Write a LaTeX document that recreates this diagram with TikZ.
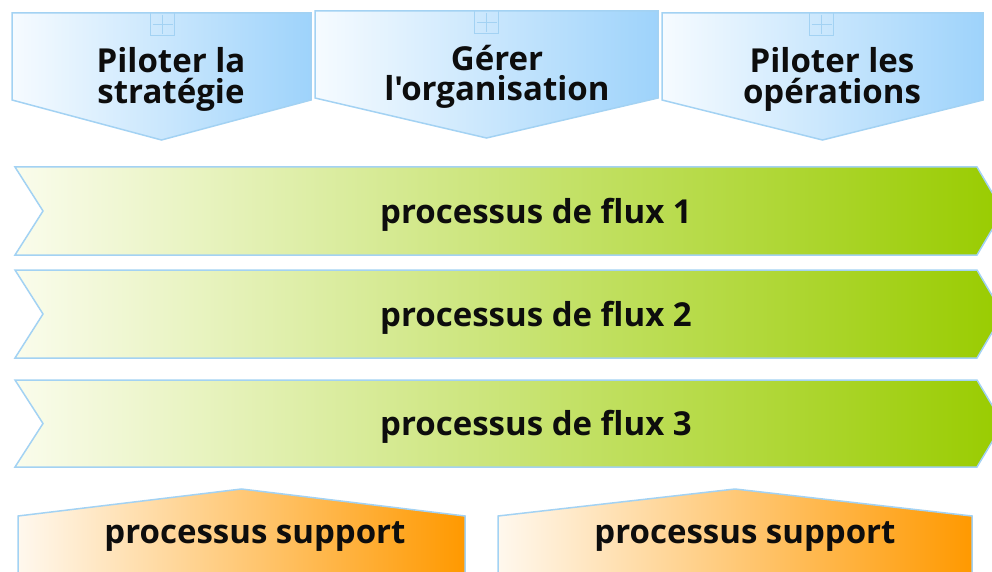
\documentclass[tikz,border=0pt]{standalone}
\usepackage{fontspec}
\setmainfont{Open Sans}[Ligatures=TeXOff]
\usepackage{xcolor}
% shape outlines: x1, x2 (and top for the pilot boxes)
\def\pilotshape#1#2#3{(#1,#3) -- (#2,#3) -- (#2,#3+87) -- ({(#1+#2)/2},#3+127) -- (#1,#3+87) -- cycle}
\def\plusicon#1#2{(#1-12,#2) rectangle (#1+12,#2+23) (#1-10,#2+11.5) -- (#1+10,#2+11.5) (#1,#2+2) -- (#1,#2+21)}
\def\flowshape#1#2{(15,#1) -- (977,#1) -- (1003,{(#1+#2)/2}) -- (977,#2) -- (15,#2) -- (43,{(#1+#2)/2}) -- cycle}
\def\supportshape#1#2{(#1,600) -- (#1,516) -- ({(#1+#2)/2},489) -- (#2,516) -- (#2,600)}
\definecolor{shape edge}{HTML}{A3D2F3}
\definecolor{pilot light}{HTML}{F6FBFF}
\definecolor{pilot dark}{HTML}{9ED3FB}
\definecolor{flow light}{HTML}{FAFCEC}
\definecolor{flow dark}{HTML}{99CC00}
\definecolor{support light}{HTML}{FFF8EE}
\definecolor{support dark}{HTML}{FF9900}
\tikzset{pilot/.style={left color=pilot light, right color=pilot dark, draw=shape edge, line width=1.5pt},
    flow/.style={left color=flow light, right color=flow dark, draw=shape edge, line width=1.5pt},
    support/.style={left color=support light, right color=support dark, draw=shape edge, line width=1.5pt},
    icon/.style={draw=shape edge, line width=1pt},
    caption/.style={font=\bfseries\fontsize{33}{30.5}\selectfont, align=center, inner sep=0pt, text=black!95}}

\begin{document}
\begin{tikzpicture}[x=1pt, y=-1pt]
    \useasboundingbox (0,0) rectangle (992,572);
    \clip (0,0) rectangle (992,572);
    % management row
    \draw[pilot] \pilotshape{12}{311}{13};
    \draw[pilot] \pilotshape{315}{658}{11};
    \draw[pilot] \pilotshape{662}{983}{13};
    \draw[icon] \plusicon{162.5}{13};
    \draw[icon] \plusicon{486.5}{11};
    \draw[icon] \plusicon{821.5}{13};
    % base sits on the last line
    \node[caption, anchor=base] (strategy) at (171,103.5) {Piloter la\\stratégie};
    \node[caption, anchor=base] (organisation) at (497,101) {Gérer\\l'organisation};
    \node[caption, anchor=base] (operations) at (832,103.5) {Piloter les\\opérations};
    % flows
    \draw[flow] \flowshape{167}{255};
    \draw[flow] \flowshape{270}{358};
    \draw[flow] \flowshape{380}{467};
    \node[caption, anchor=base] (flux1) at (536,223) {processus de flux 1};
    \node[caption, anchor=base] (flux2) at (536,326) {processus de flux 2};
    \node[caption, anchor=base] (flux3) at (536,435) {processus de flux 3};
    % support row
    \draw[support] \supportshape{18}{465};
    \draw[support] \supportshape{498}{972};
    \node[caption, anchor=base] (support1) at (255,543) {processus support};
    \node[caption, anchor=base] (support2) at (745,543) {processus support};
\end{tikzpicture}
\end{document}
